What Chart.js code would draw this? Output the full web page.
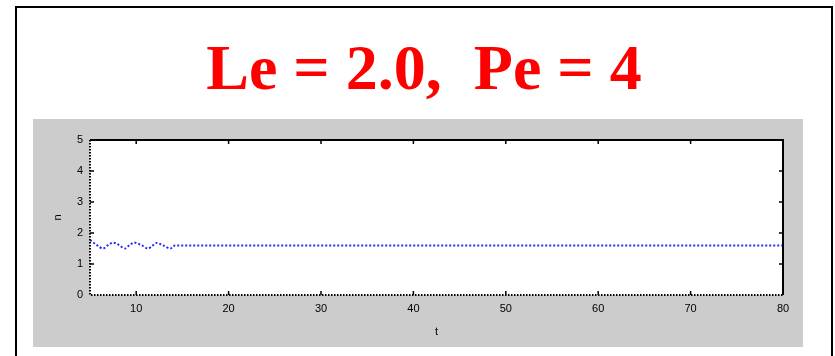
<!DOCTYPE html>
<html>
<head>
<meta charset="utf-8">
<script src="https://cdn.jsdelivr.net/npm/chart.js@4/dist/chart.umd.min.js"></script>
<style>
  html, body { margin: 0; padding: 0; background: #fff; width: 835px; height: 356px; overflow: hidden; }
  #frame { position: absolute; left: 15px; top: 6px; width: 814px; height: 420px; border: 2px solid #000; }
  #title { position: absolute; left: 15px; top: 36px; width: 818px; text-align: center; white-space: pre;
           font: bold 64px "Liberation Serif", "Times New Roman", serif; line-height: 64px; color: #ff0000; }
  #panel { position: absolute; left: 33px; top: 119px; width: 770px; height: 228px; background: #cccccc; }
  #panel canvas { filter: blur(0.4px); }
</style>
</head>
<body>
<div id="frame"></div>
<div id="title">Le = 2.0,  Pe = 4</div>
<div id="panel"><canvas id="c" width="770" height="228"></canvas></div>
<script>
// time samples and the corresponding n(t) response
const tValues = [5, 5.7, 6.4, 7.0, 7.5, 8.1, 8.8, 9.3, 9.8, 10.6, 11.3, 11.8, 12.2, 12.9, 13.7, 14.2, 20, 30, 40, 50, 60, 70, 80];
const nValues = [1.77, 1.62, 1.50, 1.62, 1.69, 1.62, 1.50, 1.62, 1.69, 1.60, 1.50, 1.60, 1.68, 1.60, 1.50, 1.60, 1.60, 1.60, 1.60, 1.60, 1.60, 1.60, 1.60];
const xTicks = [10, 20, 30, 40, 50, 60, 70, 80];
const yTicks = [0, 1, 2, 3, 4, 5];
const xRange = [5, 80];
const yRange = [0, 5];

const points = tValues.map((t, i) => ({ x: t, y: nValues[i] }));

// white plotting area inside the grey panel
const plotBackground = {
  id: 'plotBackground',
  beforeDatasetsDraw(chart) {
    const { ctx, chartArea: a } = chart;
    ctx.save();
    ctx.fillStyle = '#ffffff';
    ctx.fillRect(a.left, a.top, a.right - a.left, a.bottom - a.top);
    ctx.restore();
  }
};

// box around the axes: solid top/right edges, dotted left/bottom, ticks pointing inward
const axesBox = {
  id: 'axesBox',
  afterDatasetsDraw(chart) {
    const { ctx, chartArea: a, scales: { x, y } } = chart;
    ctx.save();
    ctx.strokeStyle = '#000';
    ctx.lineWidth = 2;
    ctx.beginPath();
    ctx.moveTo(a.left, a.top); ctx.lineTo(a.right, a.top); ctx.lineTo(a.right, a.bottom);
    ctx.stroke();
    ctx.setLineDash([1.5, 1.5]);
    ctx.beginPath();
    ctx.moveTo(a.left, a.top); ctx.lineTo(a.left, a.bottom); ctx.lineTo(a.right, a.bottom);
    ctx.stroke();
    ctx.setLineDash([]);
    ctx.lineWidth = 1.5;
    const len = 4;
    ctx.beginPath();
    xTicks.forEach(v => {
      const px = x.getPixelForValue(v);
      if (px >= a.right - 1) return;
      ctx.moveTo(px, a.bottom); ctx.lineTo(px, a.bottom - len);
      ctx.moveTo(px, a.top); ctx.lineTo(px, a.top + len);
    });
    yTicks.forEach(v => {
      const py = y.getPixelForValue(v);
      if (py <= a.top + 1 || py >= a.bottom - 1) return;
      ctx.moveTo(a.left, py); ctx.lineTo(a.left + len, py);
      ctx.moveTo(a.right, py); ctx.lineTo(a.right - len, py);
    });
    ctx.stroke();
    ctx.restore();
  }
};

const tickFont = { family: '"Liberation Sans", Arial, sans-serif', size: 11 };

new Chart(document.getElementById('c'), {
  type: 'line',
  data: {
    datasets: [{
      data: points,
      borderColor: '#1f2bff',
      borderWidth: 2,
      borderDash: [2, 2],
      pointRadius: 0,
      cubicInterpolationMode: 'monotone',
      fill: false
    }]
  },
  options: {
    responsive: false,
    devicePixelRatio: 1,
    animation: false,
    events: [],
    layout: { padding: { left: 0, top: 21, right: 20, bottom: 0 } },
    plugins: { legend: { display: false }, tooltip: { enabled: false } },
    scales: {
      x: {
        type: 'linear',
        min: xRange[0],
        max: xRange[1],
        afterBuildTicks: s => { s.ticks = xTicks.map(v => ({ value: v })); },
        afterFit: s => { s.height = 52; },
        grid: { display: false, drawTicks: false },
        border: { display: false },
        ticks: { color: '#000', font: tickFont, padding: 7, maxRotation: 0 },
        title: { display: true, text: 't', color: '#000', font: tickFont, padding: { top: 8, bottom: 8 } }
      },
      y: {
        type: 'linear',
        min: yRange[0],
        max: yRange[1],
        afterBuildTicks: s => { s.ticks = yTicks.map(v => ({ value: v })); },
        afterFit: s => { s.width = 57; },
        grid: { display: false, drawTicks: false },
        border: { display: false },
        ticks: { color: '#000', font: tickFont, padding: 7 },
        title: { display: true, text: 'n', color: '#000', font: tickFont, padding: { top: 18, bottom: 18 } }
      }
    }
  },
  plugins: [plotBackground, axesBox]
});
</script>
</body>
</html>
